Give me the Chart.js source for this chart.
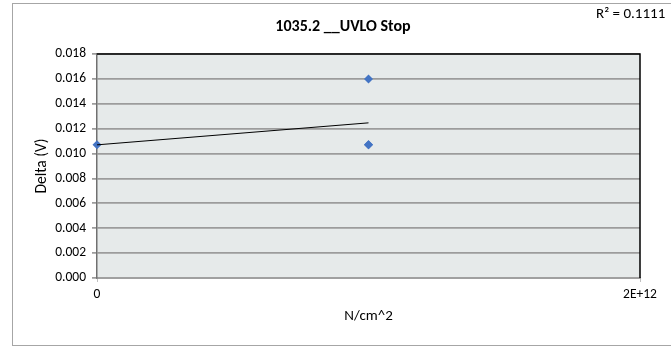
<!DOCTYPE html>
<html>
<head>
<meta charset="utf-8">
<script src="https://cdn.jsdelivr.net/npm/chart.js@4/dist/chart.umd.min.js"></script>
<style>
  html, body { margin: 0; padding: 0; background: #fff; }
  canvas { display: block; }
</style>
</head>
<body>
<canvas id="c" width="671" height="346"></canvas>
<script>
// ── data ──────────────────────────────────────────────────────
const title    = '1035.2 __UVLO Stop';
const xTitle   = 'N/cm^2';
const yTitle   = 'Delta (V)';
const xValues  = [0, 1e12, 1e12, 1e12];
const yValues  = [0.0107, 0.016, 0.0107, 0.0107];
const xTicks   = [0, 2e12];
const yTicks   = [0, 0.002, 0.004, 0.006, 0.008, 0.010, 0.012, 0.014, 0.016, 0.018];

const FONT = 'Carlito, Calibri, Lato, "Liberation Sans", sans-serif';

// linear trendline (least squares), as Excel does it
function linFit(xs, ys) {
  const n = xs.length;
  const mx = xs.reduce((a, b) => a + b, 0) / n;
  const my = ys.reduce((a, b) => a + b, 0) / n;
  let sxy = 0, sxx = 0, syy = 0;
  for (let i = 0; i < n; i++) {
    sxy += (xs[i] - mx) * (ys[i] - my);
    sxx += (xs[i] - mx) ** 2;
    syy += (ys[i] - my) ** 2;
  }
  const slope = sxy / sxx;
  return { slope, icpt: my - slope * mx, r2: (sxy * sxy) / (sxx * syy) };
}
const fit = linFit(xValues, yValues);
const xMin = Math.min(...xValues), xMax = Math.max(...xValues);
const trend = [xMin, xMax].map(x => ({ x, y: fit.icpt + fit.slope * x }));
const points = xValues.map((x, i) => ({ x, y: yValues[i] }));

const fmtExp = v => {
  if (v === 0) return '0';
  const e = Math.floor(Math.log10(Math.abs(v)));
  return `${+(v / 10 ** e).toFixed(2)}E+${e}`;
};

// ── frame, plot fill, title, R² ───────────────────────────────
const excelFrame = {
  id: 'excelFrame',
  beforeDraw(chart) {
    const { ctx, chartArea: a } = chart;
    ctx.save();
    ctx.fillStyle = '#fff';
    ctx.fillRect(0, 0, chart.width, chart.height);
    ctx.strokeStyle = '#a6a6a6';
    ctx.lineWidth = 1;
    ctx.strokeRect(12.5, 3.5, 700, 342);
    ctx.fillStyle = '#e6eaea';
    ctx.fillRect(a.left, a.top, a.right - a.left, a.bottom - a.top);
    ctx.restore();
  },
  afterDraw(chart) {
    const { ctx, chartArea: a } = chart;
    ctx.save();
    ctx.strokeStyle = '#000';
    ctx.lineWidth = 1.5;
    ctx.beginPath();
    ctx.moveTo(a.left, a.top);
    ctx.lineTo(a.right, a.top);
    ctx.lineTo(a.right, a.bottom);
    ctx.stroke();
    ctx.fillStyle = '#000';
    ctx.textBaseline = 'middle';
    ctx.textAlign = 'center';
    ctx.font = `bold 16px ${FONT}`;
    ctx.fillText(title, 343, 27);
    ctx.textAlign = 'left';
    ctx.font = `15px ${FONT}`;
    ctx.fillText(`R² = ${fit.r2.toFixed(4)}`, 596, 14);
    ctx.restore();
  }
};

new Chart(document.getElementById('c'), {
  type: 'scatter',
  data: {
    datasets: [
      {
        type: 'line', label: 'trend', data: trend,
        borderColor: '#000', borderWidth: 1, pointRadius: 0, fill: false
      },
      {
        label: yTitle, data: points, clip: false,
        pointStyle: 'rectRot', pointRadius: 4.5, pointHoverRadius: 4.5,
        backgroundColor: '#4374c4', borderColor: '#4374c4', borderWidth: 0
      }
    ]
  },
  options: {
    responsive: false, animation: false,
    layout: { padding: { left: 12, right: 31, top: 54, bottom: 0 } },
    plugins: { legend: { display: false }, tooltip: { enabled: false }, title: { display: false } },
    scales: {
      x: {
        type: 'linear', min: xTicks[0], max: xTicks[xTicks.length - 1],
        afterBuildTicks: s => { s.ticks = xTicks.map(value => ({ value })); },
        afterFit: s => { s.height = 68; },
        grid: { drawOnChartArea: false, drawTicks: true, tickLength: 4, color: '#c0c0c0' },
        border: { color: '#a0a0a0', width: 2 },
        ticks: { callback: v => fmtExp(v), color: '#000', padding: 5, maxRotation: 0, font: { family: FONT, size: 13.5 } },
        title: { display: true, text: xTitle, color: '#000', padding: { top: 0, bottom: 21 }, font: { family: FONT, size: 15 } }
      },
      y: {
        min: yTicks[0], max: yTicks[yTicks.length - 1],
        afterBuildTicks: s => { s.ticks = yTicks.map(value => ({ value })); },
        afterFit: s => { s.width = 85; },
        grid: { color: '#9c9c9c', lineWidth: 1.75, tickLength: 5 },
        border: { color: '#707070', width: 1.5 },
        ticks: { callback: v => v.toFixed(3), color: '#000', padding: 6, font: { family: FONT, size: 13.5 } },
        title: { display: true, text: yTitle, color: '#000', padding: { top: 21, bottom: 0 }, font: { family: FONT, size: 15.5 } }
      }
    }
  },
  plugins: [excelFrame]
});
</script>
</body>
</html>
